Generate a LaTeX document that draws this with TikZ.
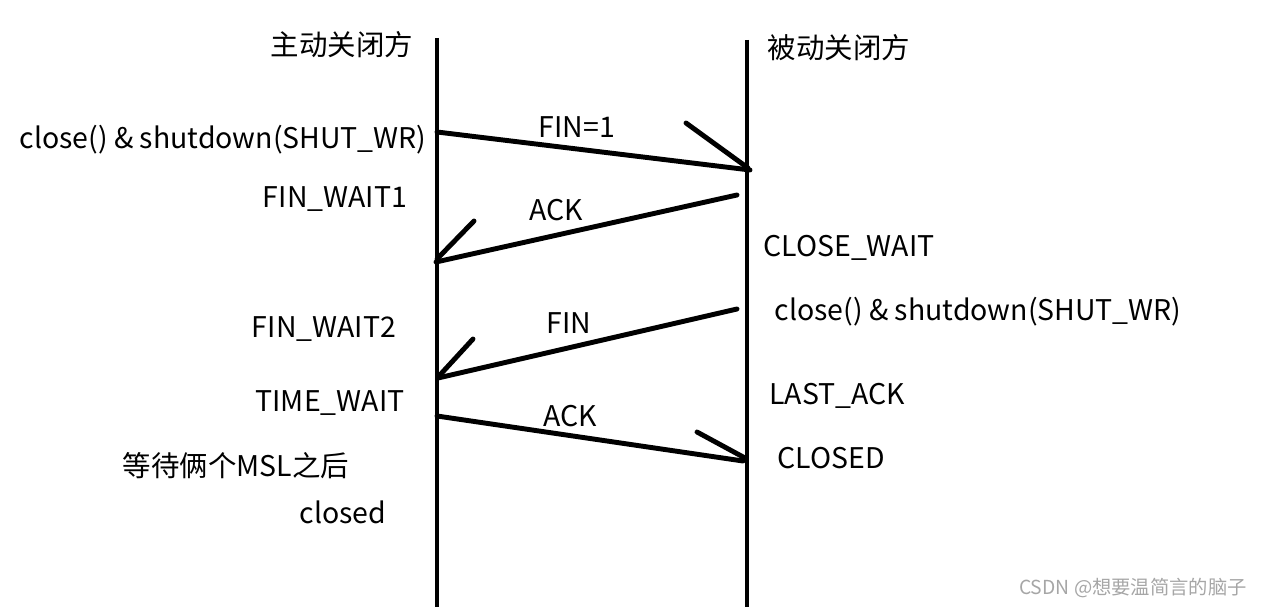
\documentclass[tikz,border=0pt]{standalone}
\usepackage{fontspec}
\setmainfont{Noto Sans CJK SC}
\usepackage{tikz}
\colorlet{markgray}{black!35}

\tikzset{
    lbl/.style={inner sep=0pt,font=\fontsize{16.2pt}{19pt}\selectfont},
    msg/.style={line width=2.8pt,line cap=round},
}

\begin{document}
\begin{tikzpicture}[
        x=0.02cm, y=-0.02cm
    ]
        \useasboundingbox (0,0) rectangle (1263,607);

        % lifelines
        \coordinate (atop) at (437,38);
        \coordinate (abot) at (437,607);
        \coordinate (ptop) at (747,40);
        \coordinate (pbot) at (747,607);
        \draw [msg,line cap=butt] (atop) -- (abot);
        \draw [msg,line cap=butt] (ptop) -- (pbot);

        \node[lbl] (active)  at (342,45) {主动关闭方};
        \node[lbl] (passive) at (839,48) {被动关闭方};

        % messages
        \coordinate (m1s) at (437,132);  \coordinate (m1e) at (750,170);
        \coordinate (m2s) at (737,195);  \coordinate (m2e) at (436,262);
        \coordinate (m3s) at (737,309);  \coordinate (m3e) at (438,378);
        \coordinate (m4s) at (437,416);  \coordinate (m4e) at (743,461);
        \draw [msg] (m1s) -- (m1e);
        \draw [msg] (m2s) -- (m2e);
        \draw [msg] (m3s) -- (m3e);
        \draw [msg] (m4s) -- (m4e);

        % hand drawn heads
        \coordinate (h1) at (686,123);
        \coordinate (h2) at (474,221);
        \coordinate (h3) at (473,339);
        \coordinate (h4) at (697,432);
        \draw [msg] (h1) -- (748,168);
        \draw [msg] (h2) -- (437,259);
        \draw [msg] (h3) -- (439,376);
        \draw [msg] (h4) -- (745,458);

        \node[lbl] (fin1) at (577,127) {FIN=1};
        \node[lbl] (ack1) at (556,210) {ACK};
        \node[lbl] (fin2) at (569,323) {FIN};
        \node[lbl] (ack2) at (570,416) {ACK};

        % states, active side
        \node[lbl] (aclose) at (223,140) {close() \& shutdown(SHUT\_WR)};
        \node[lbl] (fw1)    at (335,199) {FIN\_WAIT1};
        \node[lbl] (fw2)    at (324,329) {FIN\_WAIT2};
        \node[lbl] (tw)     at (330,403) {TIME\_WAIT};
        \node[lbl] (msl)    at (236,466) {等待俩个MSL之后};
        \node[lbl] (closed) at (343,512) {closed};

        % states, passive side
        \node[lbl] (cw)     at (849,248) {CLOSE\_WAIT};
        \node[lbl] (pclose) at (978,312) {close() \& shutdown(SHUT\_WR)};
        \node[lbl] (lack)   at (837,396) {LAST\_ACK};
        \node[lbl] (pcl)    at (831,458) {CLOSED};

        \node[inner sep=0pt,text=markgray,font=\fontsize{11pt}{13pt}\selectfont] (mark) at (1133,588) {CSDN @想要温简言的脑子};
    \end{tikzpicture}
\end{document}
